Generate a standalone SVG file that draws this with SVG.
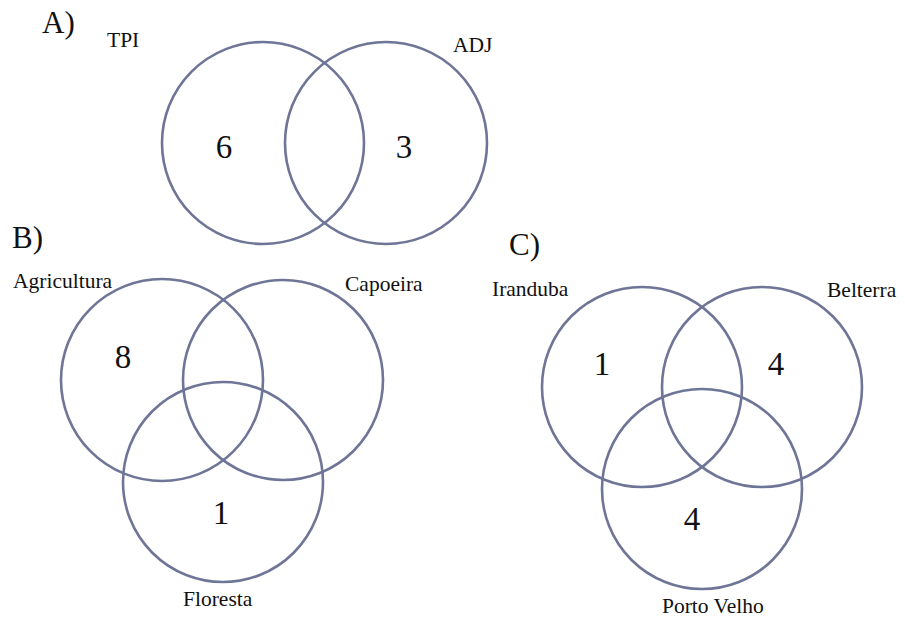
<svg xmlns="http://www.w3.org/2000/svg" width="905" height="618" viewBox="0 0 905 618" font-family="Liberation Serif, DejaVu Serif, serif">
<style>
.c{fill:none;stroke:#6e7597;stroke-width:2.6}
.t{fill:#111}
.p{font-size:31px}
.l{font-size:21.5px}
.n{font-size:33px;text-anchor:middle}
</style>
<rect width="905" height="618" fill="#fff"/>
<g id="panelA">
<text class="t p" x="42" y="33">A)</text>
<g id="TPI"><circle class="c" cx="263" cy="143" r="101"/><text class="t l" x="107" y="47">TPI</text><text class="t n" x="224" y="158">6</text></g>
<g id="ADJ"><circle class="c" cx="386" cy="143" r="101"/><text class="t l" x="453" y="52">ADJ</text><text class="t n" x="404" y="158">3</text></g>
</g>
<g id="panelB">
<text class="t p" x="12" y="248">B)</text>
<g id="Agricultura"><circle class="c" cx="162" cy="380" r="101"/><text class="t l" x="13" y="288">Agricultura</text><text class="t n" x="123" y="368">8</text></g>
<g id="Capoeira"><circle class="c" cx="283" cy="380" r="100"/><text class="t l" x="345" y="291">Capoeira</text></g>
<g id="Floresta"><circle class="c" cx="223" cy="482" r="100"/><text class="t l" x="183" y="606">Floresta</text><text class="t n" x="221" y="524">1</text></g>
</g>
<g id="panelC">
<text class="t p" x="509" y="255">C)</text>
<g id="Iranduba"><circle class="c" cx="642" cy="387" r="100"/><text class="t l" x="492" y="296">Iranduba</text><text class="t n" x="602" y="375">1</text></g>
<g id="Belterra"><circle class="c" cx="762" cy="387" r="100"/><text class="t l" x="827" y="297">Belterra</text><text class="t n" x="776" y="375">4</text></g>
<g id="PortoVelho"><circle class="c" cx="702" cy="489" r="100"/><text class="t l" x="662" y="613">Porto Velho</text><text class="t n" x="692" y="530">4</text></g>
</g>
</svg>
